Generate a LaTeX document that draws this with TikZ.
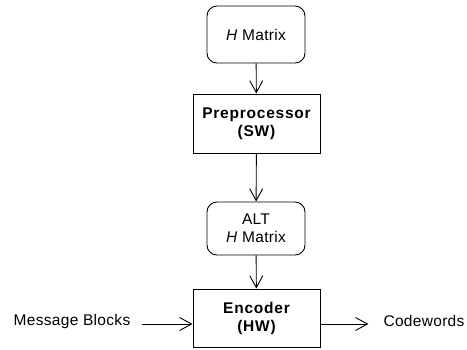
\documentclass[tikz,border=0pt]{standalone}
\usepackage{fontspec}
\setmainfont{Liberation Sans}[LetterSpace=2]
\newfontfamily\boldwide{Liberation Sans Bold}[LetterSpace=5]
\usetikzlibrary{arrows.meta}
\begin{document}
\begin{tikzpicture}[x=1pt,y=-1pt,
  every node/.style={font=\fontsize{15.5}{18}\selectfont, align=center, inner sep=0pt},
  roundbox/.style={draw, line width=0.9pt, rounded corners=10pt, minimum width=98pt},
  blockbox/.style={draw, line width=0.9pt, minimum width=127pt, font=\fontsize{15.5}{18}\selectfont\boldwide},
  flow/.style={line width=0.9pt, -{Straight Barb[length=12pt,width=13pt,line width=0.9pt]}}
]
\useasboundingbox (0,0) rectangle (467,349);

\node[roundbox, minimum height=57pt] (hm) at (256,34.5) {\textit{H} Matrix};
\node[blockbox, minimum height=59pt] (pre) at (256.5,123.5) {Preprocessor\\(SW)};
\node[roundbox, minimum height=53pt] (alt) at (256,228.5) {ALT\\\textit{H} Matrix};
\node[blockbox, minimum height=58pt] (enc) at (256.5,318) {Encoder\\(HW)};

\node (msg) at (72,321) {Message Blocks};
\node (cw) at (424,321) {Codewords};

\draw[flow] (hm) -- (pre);
\draw[flow] (pre) -- (alt);
\draw[flow] (alt) -- (enc);
\draw[flow] (msg.east) ++(12pt,-3pt) coordinate (msgend) -- (enc.west |- msgend);
\draw[flow] (enc.east |- msgend) -- ++(48pt,0) coordinate (cwend);
\end{tikzpicture}
\end{document}
